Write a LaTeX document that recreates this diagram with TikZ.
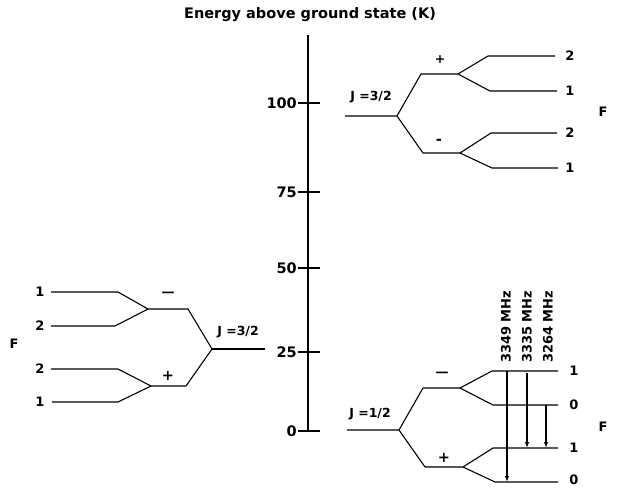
\documentclass[tikz,border=0pt]{standalone}
\usepackage{fontspec}
\setmainfont{DejaVu Sans}
\usetikzlibrary{arrows.meta}
\begin{document}
\begin{tikzpicture}[x=1pt,y=-1pt,
  lvl/.style={line width=1.1pt,line join=round},
  axis/.style={line width=1.5pt},
  lab/.style={font=\bfseries\fontsize{13}{15}\selectfont,inner sep=0pt},
  big/.style={font=\bfseries\fontsize{14.5}{16}\selectfont,inner sep=0pt},
  jlab/.style={font=\bfseries\fontsize{12.5}{14}\selectfont,inner sep=0pt},
  trans/.style={line width=1.1pt,-{Latex[length=6pt,width=4.5pt]}}]
\useasboundingbox (0,0) rectangle (625,488);
% title and axis
\node[big] (title) at (310,15) {Energy above ground state (K)};
\coordinate (ax0) at (308,35);
\coordinate (ax1) at (308,431);
\draw[axis] (ax0) -- (ax1);
\foreach \y/\t [count=\i] in {103/100,192/75,268/50,352/25,431/0}{
  \coordinate (tl\i) at (298,\y);
  \coordinate (tr\i) at (320,\y);
  \draw[axis] (tl\i) -- (tr\i);
  \node[big,anchor=east] (tick\i) at (297,\y) {\t};
}
% left J=3/2
\coordinate (L1a) at (51,292); \coordinate (L1b) at (118,292);
\coordinate (Lm) at (148,309);
\coordinate (L2a) at (51,326); \coordinate (L2b) at (115,326);
\coordinate (Lmr) at (188,309);
\coordinate (LJ) at (212,349); \coordinate (LJe) at (265,349);
\coordinate (Lpr) at (186,386); \coordinate (Lp) at (151,386);
\coordinate (L3a) at (51,369); \coordinate (L3b) at (118,369);
\coordinate (L4a) at (52,402); \coordinate (L4b) at (118,402);
\draw[lvl] (L1a) -- (L1b) -- (Lm) -- (L2b) -- (L2a);
\draw[lvl] (Lm) -- (Lmr) -- (LJ) -- (Lpr) -- (Lp);
\draw[lvl] (LJ) -- (LJe);
\draw[lvl] (L3a) -- (L3b) -- (Lp) -- (L4b) -- (L4a);
\node[lab] (lf1) at (40,292) {1};
\node[lab] (lf2) at (40,326) {2};
\node[lab] (lf3) at (40,369) {2};
\node[lab] (lf4) at (40,402) {1};
\node[lab] (lF) at (14,344) {F};
\node[lab] (lminus) at (168,294) {—};
\node[big] (lplus) at (168,376) {+};
\node[jlab] (lJ) at (238,332) {J =3/2};
% right top J=3/2
\coordinate (RJ0) at (345,116); \coordinate (RJ) at (397,116);
\coordinate (Rp) at (421,74); \coordinate (Rpr) at (458,74);
\coordinate (R2a) at (488,56); \coordinate (R2e) at (555,56);
\coordinate (R1a) at (490,91); \coordinate (R1e) at (557,91);
\coordinate (Rm) at (423,153); \coordinate (Rmr) at (460,153);
\coordinate (R3a) at (491,133); \coordinate (R3e) at (557,133);
\coordinate (R4a) at (492,168); \coordinate (R4e) at (558,168);
\draw[lvl] (RJ0) -- (RJ) -- (Rp) -- (Rpr) -- (R2a) -- (R2e);
\draw[lvl] (Rpr) -- (R1a) -- (R1e);
\draw[lvl] (RJ) -- (Rm) -- (Rmr) -- (R3a) -- (R3e);
\draw[lvl] (Rmr) -- (R4a) -- (R4e);
\node[jlab] (rplus) at (440,60) {+};
\node[big] (rminus) at (439,142) {-};
\node[lab] (rf1) at (570,56) {2};
\node[lab] (rf2) at (570,91) {1};
\node[lab] (rf3) at (570,133) {2};
\node[lab] (rf4) at (570,168) {1};
\node[lab] (rF) at (603,112) {F};
\node[jlab] (rJ) at (371,97) {J =3/2};
% right bottom J=1/2
\coordinate (SJ0) at (347,430); \coordinate (SJ) at (399,430);
\coordinate (Sm) at (423,388); \coordinate (Smr) at (460,388);
\coordinate (S1a) at (492,371); \coordinate (S1e) at (558,371);
\coordinate (S0a) at (493,405); \coordinate (S0e) at (558,405);
\coordinate (Sp) at (425,467); \coordinate (Spr) at (463,467);
\coordinate (S1b) at (493,448); \coordinate (S1be) at (558,448);
\coordinate (S0b) at (495,482); \coordinate (S0be) at (558,482);
\draw[lvl] (SJ0) -- (SJ) -- (Sm) -- (Smr) -- (S1a) -- (S1e);
\draw[lvl] (Smr) -- (S0a) -- (S0e);
\draw[lvl] (SJ) -- (Sp) -- (Spr) -- (S1b) -- (S1be);
\draw[lvl] (Spr) -- (S0b) -- (S0be);
\node[lab] (sminus) at (442,374) {—};
\node[big] (splus) at (444,458) {+};
\node[lab] (sf1) at (574,371) {1};
\node[lab] (sf2) at (574,405) {0};
\node[lab] (sf3) at (574,448) {1};
\node[lab] (sf4) at (574,480) {0};
\node[lab] (sF) at (603,427) {F};
\node[jlab] (sJ) at (370,414) {J =1/2};
% transitions
\coordinate (t1s) at (507,371); \coordinate (t1e) at (507,482);
\coordinate (t2s) at (527,373); \coordinate (t2e) at (527,448);
\coordinate (t3s) at (546,405); \coordinate (t3e) at (546,448);
\draw[trans] (t1s) -- (t1e);
\draw[trans] (t2s) -- (t2e);
\draw[trans] (t3s) -- (t3e);
\node[lab,rotate=90,anchor=west] (f1) at (506,363) {3349 MHz};
\node[lab,rotate=90,anchor=west] (f2) at (527,363) {3335 MHz};
\node[lab,rotate=90,anchor=west] (f3) at (548,363) {3264 MHz};
\end{tikzpicture}
\end{document}
